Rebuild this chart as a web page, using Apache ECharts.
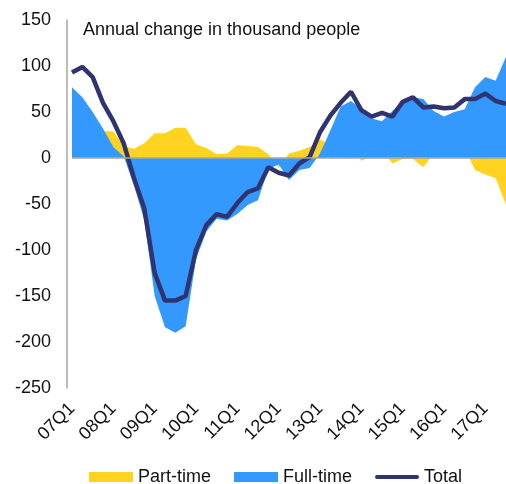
<!DOCTYPE html>
<html>
<head>
<meta charset="utf-8">
<script src="https://cdn.jsdelivr.net/npm/echarts@6/dist/echarts.min.js"></script>
<style>
  html, body { margin: 0; padding: 0; background: #fff; }
  #main { width: 506px; height: 484px; }
</style>
</head>
<body>
<div id="main"></div>
<script>
// quarters 07Q1 .. 17Q3
var quarters = [
  '07Q1','07Q2','07Q3','07Q4','08Q1','08Q2','08Q3','08Q4',
  '09Q1','09Q2','09Q3','09Q4','10Q1','10Q2','10Q3','10Q4',
  '11Q1','11Q2','11Q3','11Q4','12Q1','12Q2','12Q3','12Q4',
  '13Q1','13Q2','13Q3','13Q4','14Q1','14Q2','14Q3','14Q4',
  '15Q1','15Q2','15Q3','15Q4','16Q1','16Q2','16Q3','16Q4',
  '17Q1','17Q2','17Q3'
];
var partTime = [
  16, 32, 37, 29, 29, 13, 10, 16,
  27, 27, 33, 33, 15, 11, 4, 5,
  14, 13, 12, 4, -11, 5, 8, 12,
  20, 15, 4, 10, -3, 2, 9, -6,
  -1, -1, -10, 5, 9, 5, 11, -13,
  -18, -22, -51
];
var fullTime = [
  77, 66, 50, 32, 12, 2, -30, -68,
  -150, -184, -190, -183, -110, -80, -66, -68,
  -61, -51, -46, -12, -7, -24, -13, -11,
  5, 30, 56, 62, 53, 43, 40, 51,
  62, 66, 64, 51, 45, 50, 53, 77,
  88, 84, 110
];
var total = [
  93, 99, 88, 60, 40, 16, -22, -55,
  -125, -155, -155, -150, -100, -73, -61, -64,
  -49, -37, -33, -10, -16, -19, -6, 1,
  28, 46, 60, 72, 52, 45, 49, 45,
  61, 66, 55, 56, 54, 55, 64, 64,
  70, 62, 59
];
var yTicks = { min: -250, max: 150, step: 50 };

var font = 'Liberation Sans, Arial, sans-serif';
var myChart = echarts.init(document.getElementById('main'));

var option = {
    animation: false,
    title: {
        text: 'Annual change in thousand people',
        left: 78,
        top: 16,
        textStyle: { fontFamily: font, fontSize: 18, fontWeight: 'normal', color: '#111' }
    },
    legend: {
        left: 84,
        top: 463,
        itemWidth: 44,
        itemHeight: 10,
        itemGap: 23,
        textStyle: { fontFamily: font, fontSize: 18, color: '#111' },
        data: [
            { name: 'Part-time', icon: 'rect' },
            { name: 'Full-time', icon: 'rect' },
            // thick line marker for the total
            { name: 'Total', icon: 'path://M2,0 L42,0 A2,2 0 0 1 42,4 L2,4 A2,2 0 0 1 2,0 Z' }
        ]
    },
    grid: { left: 72, right: 0, top: 20, bottom: 96 },
    xAxis: {
        type: 'category',
        data: quarters,
        boundaryGap: false,
        axisLine: { show: false },
        axisTick: { show: false },
        axisLabel: {
            interval: 3,
            rotate: 45,
            margin: 18,
            fontFamily: font,
            fontSize: 18,
            color: '#111'
        }
    },
    yAxis: {
        type: 'value',
        min: yTicks.min,
        max: yTicks.max,
        interval: yTicks.step,
        offset: 5,
        axisLine: { show: true, lineStyle: { color: '#a6a6a6', width: 1.5 } },
        axisTick: { show: false },
        splitLine: { show: false },
        axisLabel: { margin: 16, fontFamily: font, fontSize: 18, color: '#111' }
    },
    series: [
        {
            name: 'Part-time',
            type: 'line',
            data: partTime,
            showSymbol: false,
            symbol: 'none',
            itemStyle: { color: '#ffd320' },
            lineStyle: { width: 0 },
            areaStyle: { color: '#ffd320', opacity: 1 },
            z: 1
        },
        {
            name: 'Full-time',
            type: 'line',
            data: fullTime,
            showSymbol: false,
            symbol: 'none',
            itemStyle: { color: '#3399ff' },
            lineStyle: { width: 0 },
            areaStyle: { color: '#3399ff', opacity: 1 },
            z: 2,
            markLine: {
                silent: true,
                symbol: 'none',
                label: { show: false },
                lineStyle: { color: '#a6a6a6', width: 1.5, type: 'solid' },
                data: [{ yAxis: 0 }]
            }
        },
        {
            name: 'Total',
            type: 'line',
            data: total,
            showSymbol: false,
            symbol: 'none',
            itemStyle: { color: '#2f3470' },
            lineStyle: { color: '#2f3470', width: 4.5 },
            z: 3
        }
    ]
};

myChart.setOption(option);
window.addEventListener('resize', function () {
    myChart.resize();
});
</script>
</body>
</html>
